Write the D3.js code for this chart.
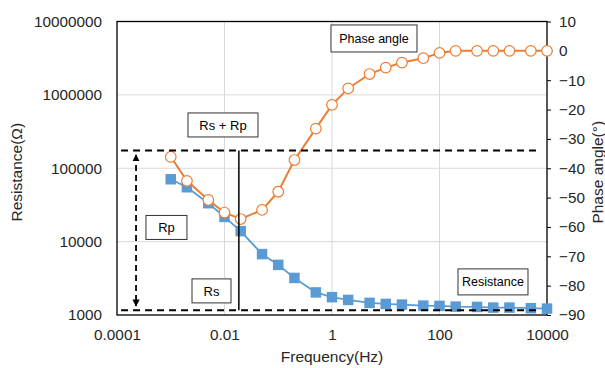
<!DOCTYPE html>
<html>
<head>
<meta charset="utf-8">
<script src="https://cdn.jsdelivr.net/npm/d3@7"></script>
<style>
  body { margin: 0; background: #fff; }
  svg { display: block; font-family: "Liberation Sans", Arial, sans-serif; }
</style>
</head>
<body>
<div id="chart"></div>
<script>
// frequency sweep (Hz)
const freqs = [0.001, 0.002, 0.005, 0.01, 0.02, 0.05, 0.1, 0.2, 0.5, 1, 2, 5,
  10, 20, 50, 100, 200, 500, 1000, 2000, 5000, 10000];
// resistance (ohm), left axis
const resistance = [70800, 55100, 33400, 21700, 13900, 6760, 4820, 3200, 2030,
  1750, 1605, 1462, 1417, 1386, 1343, 1330, 1301, 1288, 1261, 1261, 1238, 1222];
// phase angle (deg), right axis
const phase = [-36.1, -44.3, -50.8, -55.1, -57.3, -54.2, -48.0, -37.2, -26.5,
  -18.4, -12.8, -7.9, -5.7, -4.0, -2.5, -0.7, 0, 0, 0, 0, 0, 0];

const xTicks = [0.0001, 0.01, 1, 100, 10000];
const yTicks = [1000, 10000, 100000, 1000000, 10000000];
const phaseTicks = [10, 0, -10, -20, -30, -40, -50, -60, -70, -80, -90];

// equivalent circuit reading
const rsValue = 1160;
const rsRpValue = 175000;
const cornerFreq = 0.0185;
const arrowFreq = 0.000226;
const arrowSpan = [152000, 1330];
const dashSpan = [0.000119, 7400];

// text boxes: label, anchor frequency, anchor resistance
const notes = [
  { text: "Rs + Rp", f: 0.00937, r: 389000, w: 70, h: 24 },
  { text: "Rp", f: 0.000832, r: 15600, w: 41, h: 24 },
  { text: "Rs", f: 0.00573, r: 2130, w: 39, h: 24 },
  { text: "Phase angle", f: 6.04, r: 5870000, w: 86, h: 27 },
  { text: "Resistance", f: 989, r: 2825, w: 70, h: 26 },
];

const size = { width: 605, height: 368 };
const margin = { top: 21.5, right: 58, bottom: 53, left: 117 };
const colors = { res: "#5B9BD5", phase: "#ED7D31", text: "#262626", grid: "#d9d9d9" };

const svg = d3.select("#chart").append("svg")
  .attr("width", size.width)
  .attr("height", size.height);

const x = d3.scaleLog()
  .domain([0.0001, 10000])
  .range([margin.left, size.width - margin.right]);

const y = d3.scaleLog()
  .domain([1000, 10000000])
  .range([size.height - margin.bottom, margin.top]);

const yPhase = d3.scaleLinear()
  .domain([-90, 10])
  .range([size.height - margin.bottom, margin.top]);

// gridlines
svg.append("g")
  .selectAll("line")
  .data(yTicks.slice(1, -1))
  .join("line")
  .attr("x1", x.range()[0]).attr("x2", x.range()[1])
  .attr("y1", (d) => y(d)).attr("y2", (d) => y(d))
  .attr("stroke", colors.grid);

svg.append("g")
  .selectAll("line")
  .data(xTicks.slice(1, -1))
  .join("line")
  .attr("x1", (d) => x(d)).attr("x2", (d) => x(d))
  .attr("y1", y.range()[0]).attr("y2", y.range()[1])
  .attr("stroke", colors.grid);

// axes
const fmt = (d) => (d < 1 ? String(d) : d3.format("d")(d));

svg.append("g")
  .attr("transform", `translate(0, ${y.range()[0]})`)
  .call(d3.axisBottom(x).tickValues(xTicks).tickFormat(fmt).tickSize(0).tickPadding(14))
  .call((g) => g.select(".domain").remove());

svg.append("g")
  .attr("transform", `translate(${x.range()[0]}, 0)`)
  .call(d3.axisLeft(y).tickValues(yTicks).tickFormat(fmt).tickSize(0).tickPadding(15))
  .call((g) => g.select(".domain").remove());

svg.append("g")
  .attr("transform", `translate(${x.range()[1]}, 0)`)
  .call(d3.axisRight(yPhase).tickValues(phaseTicks).tickSize(4).tickPadding(8))
  .call((g) => g.select(".domain").remove())
  .call((g) => g.selectAll(".tick line").attr("stroke", "#000"));

svg.selectAll(".tick text")
  .style("font-size", "15.3px")
  .attr("fill", colors.text);

// frame
svg.append("rect")
  .attr("x", x.range()[0])
  .attr("y", y.range()[1])
  .attr("width", x.range()[1] - x.range()[0])
  .attr("height", y.range()[0] - y.range()[1])
  .attr("fill", "none")
  .attr("stroke", "#000")
  .attr("stroke-width", 1.3);

// axis titles
svg.append("text")
  .attr("transform", `translate(17, ${(y.range()[0] + y.range()[1]) / 2 + 4}) rotate(-90)`)
  .attr("text-anchor", "middle")
  .attr("dy", "0.35em")
  .style("font-size", "15.5px")
  .attr("fill", colors.text)
  .text("Resistance(Ω)");

svg.append("text")
  .attr("transform", `translate(598, ${(y.range()[0] + y.range()[1]) / 2 + 4}) rotate(-90)`)
  .attr("text-anchor", "middle")
  .attr("dy", "0.35em")
  .style("font-size", "15.5px")
  .attr("fill", colors.text)
  .text("Phase angle(°)");

svg.append("text")
  .attr("x", (x.range()[0] + x.range()[1]) / 2)
  .attr("y", 357)
  .attr("text-anchor", "middle")
  .attr("dy", "0.35em")
  .style("font-size", "15.5px")
  .attr("fill", colors.text)
  .text("Frequency(Hz)");

// resistance series
const resData = freqs.map((f, i) => ({ f, v: resistance[i] }));
const phaseData = freqs.map((f, i) => ({ f, v: phase[i] }));

svg.append("path")
  .datum(resData)
  .attr("d", d3.line().x((d) => x(d.f)).y((d) => y(d.v)))
  .attr("fill", "none")
  .attr("stroke", colors.res)
  .attr("stroke-width", 1.8);

const sq = 10.5;
svg.append("g")
  .selectAll("rect")
  .data(resData)
  .join("rect")
  .attr("x", (d) => x(d.f) - sq / 2)
  .attr("y", (d) => y(d.v) - sq / 2)
  .attr("width", sq)
  .attr("height", sq)
  .attr("fill", colors.res);

// phase series
svg.append("path")
  .datum(phaseData)
  .attr("d", d3.line().x((d) => x(d.f)).y((d) => yPhase(d.v)))
  .attr("fill", "none")
  .attr("stroke", colors.phase)
  .attr("stroke-width", 2);

svg.append("g")
  .selectAll("circle")
  .data(phaseData)
  .join("circle")
  .attr("cx", (d) => x(d.f))
  .attr("cy", (d) => yPhase(d.v))
  .attr("r", 5.3)
  .attr("fill", "#fff")
  .attr("stroke", colors.phase)
  .attr("stroke-width", 1.2);

// Rs and Rs + Rp levels
svg.append("g")
  .selectAll("line")
  .data([rsRpValue, rsValue])
  .join("line")
  .attr("x1", x(dashSpan[0])).attr("x2", x(dashSpan[1]))
  .attr("y1", (d) => y(d)).attr("y2", (d) => y(d))
  .attr("stroke", "#000")
  .attr("stroke-width", 2)
  .attr("stroke-dasharray", "7,5");

svg.append("line")
  .attr("x1", x(cornerFreq)).attr("x2", x(cornerFreq))
  .attr("y1", y(rsRpValue)).attr("y2", y(rsValue))
  .attr("stroke", "#000")
  .attr("stroke-width", 1.5);

// double arrow for Rp
svg.append("defs").append("marker")
  .attr("id", "head")
  .attr("viewBox", "0 0 10 10")
  .attr("refX", 9).attr("refY", 5)
  .attr("markerWidth", 4).attr("markerHeight", 4)
  .attr("orient", "auto-start-reverse")
  .append("path")
  .attr("d", "M0,0 L10,5 L0,10 z")
  .attr("fill", "#000");

svg.append("line")
  .attr("x1", x(arrowFreq)).attr("x2", x(arrowFreq))
  .attr("y1", y(arrowSpan[0])).attr("y2", y(arrowSpan[1]))
  .attr("stroke", "#000")
  .attr("stroke-width", 1.8)
  .attr("stroke-dasharray", "6,4")
  .attr("marker-start", "url(#head)")
  .attr("marker-end", "url(#head)");

// text boxes
const box = svg.append("g")
  .selectAll("g")
  .data(notes)
  .join("g")
  .attr("transform", (d) => `translate(${x(d.f)}, ${y(d.r)})`);

box.append("rect")
  .attr("x", (d) => -d.w / 2)
  .attr("y", (d) => -d.h / 2)
  .attr("width", (d) => d.w)
  .attr("height", (d) => d.h)
  .attr("fill", "#fff")
  .attr("stroke", "#333")
  .attr("stroke-width", 1);

box.append("text")
  .attr("text-anchor", "middle")
  .attr("dy", "0.36em")
  .style("font-size", (d) => (d.text.length > 8 ? "12.5px" : "13px"))
  .attr("fill", "#000")
  .text((d) => d.text);
</script>
</body>
</html>
